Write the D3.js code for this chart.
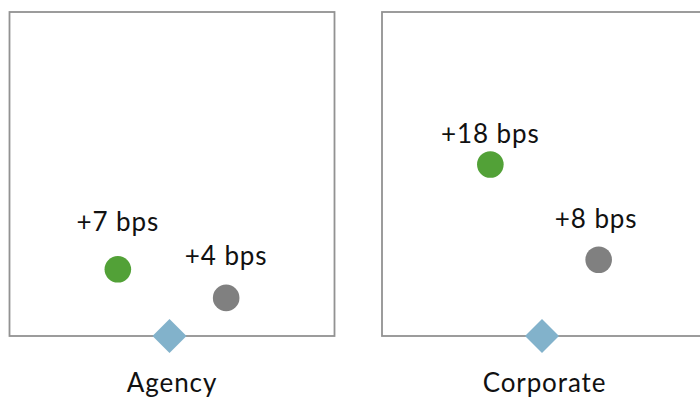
<!DOCTYPE html>
<html>
<head>
<meta charset="utf-8">
<script src="https://cdn.jsdelivr.net/npm/d3@7"></script>
<style>
  html, body { margin: 0; padding: 0; background: #fff; }
  svg { display: block; }
  text { font-family: Lato, "Open Sans", sans-serif; fill: #111; letter-spacing: 0.9px; }
</style>
</head>
<body>
<svg id="chart" width="700" height="397"></svg>
<script>
// Sectors shown side by side
const sectors = ["Agency", "Corporate"];
// Spread change in basis points for the two series in each sector
const greenBps = [7, 18];
const grayBps = [4, 8];
// Label text per point
const greenLabels = ["+7 bps", "+18 bps"];
const grayLabels = ["+4 bps", "+8 bps"];
// Reference baseline (diamond) in bps
const baseBps = [0, 0];

// Layout
const W = 700, H = 397;
const panelW = 325, panelTop = 12, panelBottom = 336;
const panelLeft = [9.5, 382];
const colors = { green: "#52a137", gray: "#808080", base: "#82b2cb", frame: "#929292" };
// Fine vertical nudges (px) of each value label above its dot
const labelLift = { green: [38, 21], gray: [33, 32] };

const svg = d3.select("#chart");

const y = d3.scaleLinear().domain([0, 34]).range([panelBottom, panelTop]);
const x = d3.scalePoint().domain(["green", "base", "gray"]).range([panelW / 3, panelW * 2 / 3]);

const panels = svg.selectAll("g.panel")
  .data(sectors.map((s, i) => ({ sector: s, i })))
  .join("g")
  .attr("class", "panel")
  .attr("transform", d => `translate(${panelLeft[d.i]},0)`);

// Frame
panels.append("rect")
  .attr("x", 0).attr("y", y(34))
  .attr("width", panelW).attr("height", y(0) - y(34))
  .attr("fill", "none")
  .attr("stroke", colors.frame)
  .attr("stroke-width", 1.8);

// Baseline diamond
panels.append("path")
  .attr("d", d3.symbol().type(d3.symbolSquare).size(580)())
  .attr("transform", d => `translate(${x("base") - 2.5},${y(baseBps[d.i])}) rotate(45)`)
  .attr("fill", colors.base);

// Dots
panels.append("circle")
  .attr("cx", x("green"))
  .attr("cy", d => y(greenBps[d.i]))
  .attr("r", 13.3)
  .attr("fill", colors.green);

panels.append("circle")
  .attr("cx", x("gray"))
  .attr("cy", d => y(grayBps[d.i]))
  .attr("r", 13.3)
  .attr("fill", colors.gray);

// Value labels
panels.append("text")
  .attr("x", x("green"))
  .attr("y", d => y(greenBps[d.i]) - labelLift.green[d.i])
  .attr("text-anchor", "middle")
  .attr("font-size", 26)
  .text(d => greenLabels[d.i]);

panels.append("text")
  .attr("x", d => x("gray") - (d.i === 1 ? 2.5 : 0))
  .attr("y", d => y(grayBps[d.i]) - labelLift.gray[d.i])
  .attr("text-anchor", "middle")
  .attr("font-size", 26)
  .text(d => grayLabels[d.i]);

// Sector titles
panels.append("text")
  .attr("x", panelW / 2)
  .attr("y", 392)
  .attr("text-anchor", "middle")
  .attr("font-size", 26)
  .text(d => d.sector);
</script>
</body>
</html>
